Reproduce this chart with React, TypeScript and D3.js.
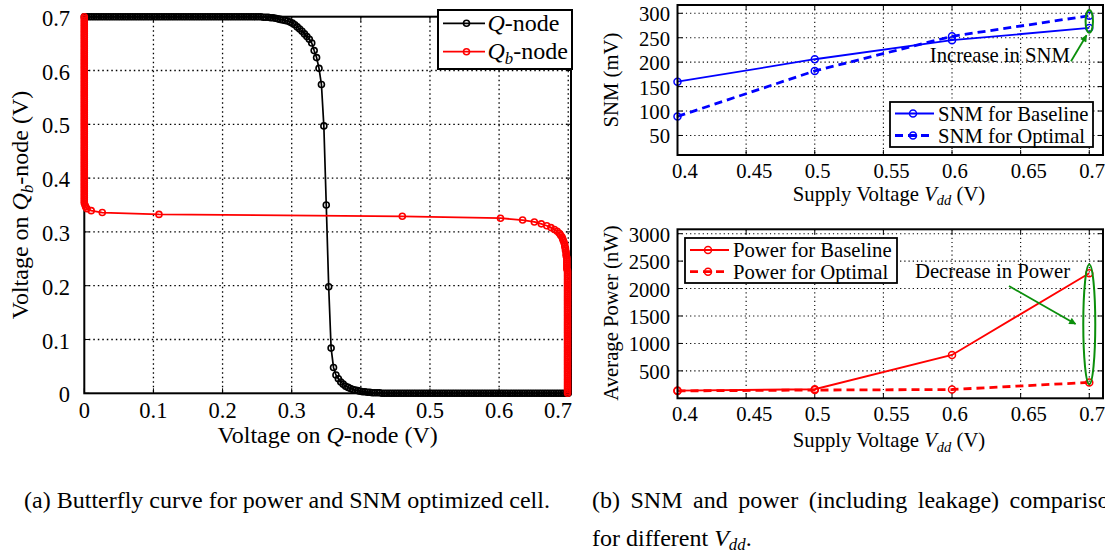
import React, { useEffect, useRef } from 'react';
import * as d3 from 'd3';

const W = 1105;
const H = 556;
const FONT = "'Liberation Serif', 'Times New Roman', serif";
const GREEN = '#0b8f0b';

// (a) butterfly curve, values in mV. Both inverters share the same sweep grid.
const sweepMv = [
  0, 3.5, 7, 10.5, 14, 17.5, 21, 24.5, 28, 31.5,
  35, 38.5, 42, 45.5, 49, 52.5, 56, 59.5, 63, 66.5,
  70, 73.5, 77, 80.5, 84, 87.5, 91, 94.5, 98, 101.5,
  105, 108.5, 112, 115.5, 119, 122.5, 126, 129.5, 133, 136.5,
  140, 143.5, 147, 150.5, 154, 157.5, 161, 164.5, 168, 171.5,
  175, 178.5, 182, 185.5, 189, 192.5, 196, 199.5, 203, 206.5,
  210, 213.5, 217, 220.5, 224, 227.5, 231, 234.5, 238, 241.5,
  245, 248.5, 252, 255.5, 259, 262.5, 266, 269.5, 273, 276.5,
  280, 283.5, 287, 290.5, 294, 297.5, 301, 304.5, 308, 311.5,
  315, 318.5, 322, 325.5, 329, 332.5, 336, 339.5, 343, 346.5,
  350, 353.5, 357, 360.5, 364, 367.5, 371, 374.5, 378, 381.5,
  385, 388.5, 392, 395.5, 399, 402.5, 406, 409.5, 413, 416.5,
  420, 423.5, 427, 430.5, 434, 437.5, 441, 444.5, 448, 451.5,
  455, 458.5, 462, 465.5, 469, 472.5, 476, 479.5, 483, 486.5,
  490, 493.5, 497, 500.5, 504, 507.5, 511, 514.5, 518, 521.5,
  525, 528.5, 532, 535.5, 539, 542.5, 546, 549.5, 553, 556.5,
  560, 563.5, 567, 570.5, 574, 577.5, 581, 584.5, 588, 591.5,
  595, 598.5, 602, 605.5, 609, 612.5, 616, 619.5, 623, 626.5,
  630, 633.5, 637, 640.5, 644, 647.5, 651, 654.5, 658, 661.5,
  665, 668.5, 672, 675.5, 679, 682.5, 686, 689.5, 693, 696.5,
  700,
];

// Q-node voltage at each sweep step (black, sweep on x)
const qNodeMv = [
  700, 700, 700, 700, 700, 700, 700, 700, 700, 700,
  700, 700, 700, 700, 700, 700, 700, 700, 700, 700,
  700, 700, 700, 700, 700, 700, 700, 700, 700, 700,
  700, 700, 700, 700, 700, 700, 700, 700, 700, 700,
  700, 700, 700, 700, 700, 700, 700, 700, 700, 700,
  700, 700, 700, 700, 700, 700, 700, 700, 700, 700,
  700, 700, 700, 700, 700, 700, 700, 700, 700, 700,
  700, 700, 700, 700, 699, 699, 699, 698, 698, 697,
  696, 695, 694, 693, 692, 690, 688, 685, 681, 677,
  673, 668, 663, 658, 651, 637, 624, 604, 574, 497,
  350, 198, 84, 48, 34, 27, 21, 17, 13, 11,
  9, 7, 6, 5, 4, 3, 3, 2, 2, 1,
  1, 1, 1, 0, 0, 0, 0, 0, 0, 0,
  0, 0, 0, 0, 0, 0, 0, 0, 0, 0,
  0, 0, 0, 0, 0, 0, 0, 0, 0, 0,
  0, 0, 0, 0, 0, 0, 0, 0, 0, 0,
  0, 0, 0, 0, 0, 0, 0, 0, 0, 0,
  0, 0, 0, 0, 0, 0, 0, 0, 0, 0,
  0, 0, 0, 0, 0, 0, 0, 0, 0, 0,
  0, 0, 0, 0, 0, 0, 0, 0, 0, 0,
  0,
];

// Qb-node voltage at each sweep step (red, sweep on y)
const qbNodeMv = [
  699, 699, 699, 699, 699, 699, 699, 699, 699, 699,
  699, 699, 699, 699, 699, 699, 699, 699, 699, 699,
  699, 699, 699, 699, 699, 699, 699, 699, 699, 699,
  699, 699, 699, 699, 699, 699, 699, 699, 699, 699,
  699, 699, 699, 699, 699, 699, 699, 699, 699, 699,
  699, 699, 699, 699, 699, 699, 699, 699, 699, 699,
  699, 699, 699, 699, 699, 699, 698, 698, 698, 698,
  698, 698, 698, 697, 697, 697, 696, 696, 695, 695,
  694, 693, 692, 691, 689, 687, 684, 680, 675, 669,
  661, 651, 634, 602, 460, 108, 26, 10, 4, 2,
  1, 0, 0, 0, 0, 0, 0, 0, 0, 0,
  0, 0, 0, 0, 0, 0, 0, 0, 0, 0,
  0, 0, 0, 0, 0, 0, 0, 0, 0, 0,
  0, 0, 0, 0, 0, 0, 0, 0, 0, 0,
  0, 0, 0, 0, 0, 0, 0, 0, 0, 0,
  0, 0, 0, 0, 0, 0, 0, 0, 0, 0,
  0, 0, 0, 0, 0, 0, 0, 0, 0, 0,
  0, 0, 0, 0, 0, 0, 0, 0, 0, 0,
  0, 0, 0, 0, 0, 0, 0, 0, 0, 0,
  0, 0, 0, 0, 0, 0, 0, 0, 0, 0,
  0,
];

const butterflyTicks = [0, 0.1, 0.2, 0.3, 0.4, 0.5, 0.6, 0.7];

// (b) SNM and power for different Vdd
const vdd = [0.4, 0.5, 0.6, 0.7];
const snmBaseline = [160, 206, 245, 270];
const snmOptimal = [89, 182, 253, 295];
const powerBaseline = [140, 165, 790, 2280];
const powerOptimal = [135, 150, 160, 290];

const vddTicks = [0.4, 0.45, 0.5, 0.55, 0.6, 0.65, 0.7];
const snmTicks = [50, 100, 150, 200, 250, 300];
const powerTicks = [500, 1000, 1500, 2000, 2500, 3000];

type Part = { t: string; i?: boolean; sub?: boolean };

// text with italic / subscript pieces
const richText = (g: any, x: number, y: number, parts: Part[], size: number, anchor = 'start', drop = 0.22) => {
  const text = g.append('text')
    .attr('x', x)
    .attr('y', y)
    .attr('font-family', FONT)
    .attr('font-size', size)
    .attr('text-anchor', anchor)
    .attr('fill', '#000');
  let low = false;
  parts.forEach(p => {
    const ts = text.append('tspan').text(p.t);
    if (p.i) ts.attr('font-style', 'italic');
    if (p.sub) {
      ts.attr('font-size', size * 0.7);
      if (!low) ts.attr('dy', size * drop);
      low = true;
    } else if (low) {
      ts.attr('dy', -size * drop);
      low = false;
    }
  });
  return text;
};

const drawBox = (g: any, x0: number, y0: number, x1: number, y1: number, w: number) => {
  g.append('rect')
    .attr('x', x0).attr('y', y0)
    .attr('width', x1 - x0).attr('height', y1 - y0)
    .attr('fill', 'none').attr('stroke', '#000').attr('stroke-width', w);
};

const drawButterfly = (svg: any) => {
  const x = d3.scaleLinear().domain([0, 0.704]).range([84.3, 571]);
  const y = d3.scaleLinear().domain([0, 0.7]).range([393.3, 16.7]);
  const [x0, x1] = x.range();
  const [y0, y1] = y.range();
  const g = svg.append('g');

  // dotted grid
  g.selectAll('.gx').data(butterflyTicks.slice(1)).join('line')
    .attr('x1', (d: number) => x(d)).attr('x2', (d: number) => x(d))
    .attr('y1', y1).attr('y2', y0)
    .attr('stroke', '#000').attr('stroke-width', 1.3).attr('stroke-dasharray', '1.5,3');
  g.selectAll('.gy').data(butterflyTicks.slice(1, -1)).join('line')
    .attr('x1', x0).attr('x2', x1)
    .attr('y1', (d: number) => y(d)).attr('y2', (d: number) => y(d))
    .attr('stroke', '#000').attr('stroke-width', 1.3).attr('stroke-dasharray', '1.5,3');

  // inward ticks
  butterflyTicks.forEach(t => {
    g.append('line').attr('x1', x(t)).attr('x2', x(t)).attr('y1', y0).attr('y2', y0 - 5).attr('stroke', '#000');
    g.append('line').attr('x1', x(t)).attr('x2', x(t)).attr('y1', y1).attr('y2', y1 + 5).attr('stroke', '#000');
    g.append('line').attr('x1', x0).attr('x2', x0 + 5).attr('y1', y(t)).attr('y2', y(t)).attr('stroke', '#000');
    g.append('line').attr('x1', x1).attr('x2', x1 - 5).attr('y1', y(t)).attr('y2', y(t)).attr('stroke', '#000');
  });

  drawBox(g, x0, y1, x1, y0, 2);

  const idx = d3.range(sweepMv.length);

  // Q-node (black): sweep on x
  const qLine = d3.line<number>()
    .x(i => x(sweepMv[i] / 1000))
    .y(i => y(qNodeMv[i] / 1000));
  g.append('path').attr('d', qLine(idx)).attr('fill', 'none').attr('stroke', '#000').attr('stroke-width', 1.7);
  g.selectAll('.qm').data(idx).join('circle')
    .attr('cx', (i: number) => x(sweepMv[i] / 1000))
    .attr('cy', (i: number) => y(qNodeMv[i] / 1000))
    .attr('r', 3).attr('fill', 'none').attr('stroke', '#000').attr('stroke-width', 1.6);

  // Qb-node (red): sweep on y
  const qbLine = d3.line<number>()
    .x(i => x(qbNodeMv[i] / 1000))
    .y(i => y(sweepMv[i] / 1000));
  g.append('path').attr('d', qbLine(idx)).attr('fill', 'none').attr('stroke', '#ff0000').attr('stroke-width', 1.8);
  g.selectAll('.qbm').data(idx).join('circle')
    .attr('cx', (i: number) => x(qbNodeMv[i] / 1000))
    .attr('cy', (i: number) => y(sweepMv[i] / 1000))
    .attr('r', 3).attr('fill', 'none').attr('stroke', '#ff0000').attr('stroke-width', 1.6);

  // tick labels
  butterflyTicks.forEach((t, k) => {
    const last = k === butterflyTicks.length - 1;
    g.append('text')
      .attr('x', last ? x1 + 1 : x(t))
      .attr('y', 417.5)
      .attr('text-anchor', last ? 'end' : 'middle')
      .attr('font-family', FONT).attr('font-size', 22.5)
      .text(d3.format('')(t));
    g.append('text')
      .attr('x', 70)
      .attr('y', y(t) + 9)
      .attr('text-anchor', 'end')
      .attr('font-family', FONT).attr('font-size', 22.5)
      .text(d3.format('')(t));
  });

  // axis titles
  richText(g, (x0 + x1) / 2, 443, [{ t: 'Voltage on ' }, { t: 'Q', i: true }, { t: '-node (V)' }], 24, 'middle');
  const yl = g.append('g').attr('transform', `translate(28, ${(y0 + y1) / 2}) rotate(-90)`);
  richText(yl, 0, 0, [{ t: 'Voltage on ' }, { t: 'Q', i: true }, { t: 'b', i: true, sub: true }, { t: '-node (V)' }], 24, 'middle');

  // legend
  const lg = g.append('g');
  lg.append('rect').attr('x', 438).attr('y', 10).attr('width', 134).attr('height', 59)
    .attr('fill', '#fff').attr('stroke', '#000').attr('stroke-width', 2);
  const items = [
    { color: '#000', cy: 23.3, parts: [{ t: 'Q', i: true }, { t: '-node' }] },
    { color: '#ff0000', cy: 51.7, parts: [{ t: 'Q', i: true }, { t: 'b', i: true, sub: true }, { t: '-node' }] },
  ];
  items.forEach(it => {
    lg.append('line').attr('x1', 443).attr('x2', 485).attr('y1', it.cy).attr('y2', it.cy)
      .attr('stroke', it.color).attr('stroke-width', 1.8);
    lg.append('circle').attr('cx', 466.5).attr('cy', it.cy).attr('r', 3)
      .attr('fill', 'none').attr('stroke', it.color).attr('stroke-width', 1.6);
    richText(lg, 487.5, it.cy + 7.5, it.parts, 24);
  });
};

const drawVddPanel = (svg: any, cfg: any) => {
  const x = d3.scaleLinear().domain([0.4, 0.71]).range([677.5, 1103]);
  const y = d3.scaleLinear().domain(cfg.yDomain).range([cfg.bottom, cfg.top]);
  const [x0, x1] = x.range();
  const [y0, y1] = y.range();
  const g = svg.append('g');

  g.selectAll('.gx').data(vddTicks.slice(1)).join('line')
    .attr('x1', (d: number) => x(d)).attr('x2', (d: number) => x(d))
    .attr('y1', y1).attr('y2', y0)
    .attr('stroke', '#000').attr('stroke-width', 1.1).attr('stroke-dasharray', '1.2,3');
  g.selectAll('.gy').data(cfg.yTicks).join('line')
    .attr('x1', x0).attr('x2', x1)
    .attr('y1', (d: number) => y(d)).attr('y2', (d: number) => y(d))
    .attr('stroke', '#000').attr('stroke-width', 1.1).attr('stroke-dasharray', '1.2,3');

  vddTicks.forEach(t => {
    g.append('line').attr('x1', x(t)).attr('x2', x(t)).attr('y1', y0).attr('y2', y0 - 5).attr('stroke', '#000');
    g.append('line').attr('x1', x(t)).attr('x2', x(t)).attr('y1', y1).attr('y2', y1 + 5).attr('stroke', '#000');
  });
  cfg.yTicks.forEach((t: number) => {
    g.append('line').attr('x1', x0).attr('x2', x0 + 5).attr('y1', y(t)).attr('y2', y(t)).attr('stroke', '#000');
    g.append('line').attr('x1', x1).attr('x2', x1 - 5).attr('y1', y(t)).attr('y2', y(t)).attr('stroke', '#000');
  });

  const line = d3.line<number>().x((_, i) => x(vdd[i])).y(d => y(d));
  const series = [
    { values: cfg.baseline, width: 1.8, dash: null },
    { values: cfg.optimal, width: 2.8, dash: '8,5' },
  ];
  series.forEach(s => {
    g.append('path').attr('d', line(s.values)).attr('fill', 'none')
      .attr('stroke', cfg.color).attr('stroke-width', s.width)
      .attr('stroke-dasharray', s.dash);
    g.selectAll(null).data(s.values).join('circle')
      .attr('cx', (_: number, i: number) => x(vdd[i]))
      .attr('cy', (d: number) => y(d))
      .attr('r', 3.5).attr('fill', 'none').attr('stroke', cfg.color).attr('stroke-width', 1.5);
  });

  drawBox(g, x0, y1, x1, y0, 2);

  // tick labels
  vddTicks.forEach(t => {
    g.append('text')
      .attr('x', Math.max(x(t) - 10, x0 - 5.5))
      .attr('y', y0 + 23)
      .attr('font-family', FONT).attr('font-size', 20.7)
      .text(d3.format('')(t));
  });
  cfg.yTicks.forEach((t: number) => {
    g.append('text')
      .attr('x', 670).attr('y', y(t) + 8)
      .attr('text-anchor', 'end')
      .attr('font-family', FONT).attr('font-size', 20.7)
      .text(t);
  });

  richText(g, 889, cfg.xTitleY, [{ t: 'Supply Voltage ' }, { t: 'V', i: true }, { t: 'dd', i: true, sub: true }, { t: ' (V)' }], 20.7, 'middle');
  const yl = g.append('g').attr('transform', `translate(618, ${cfg.yTitleCy}) rotate(-90)`);
  richText(yl, 0, 0, [{ t: cfg.yTitle }], 20.7, 'middle');

  // legend
  const lb = cfg.legend;
  g.append('rect').attr('x', lb.x0).attr('y', lb.y0).attr('width', lb.x1 - lb.x0).attr('height', lb.y1 - lb.y0)
    .attr('fill', '#fff').attr('stroke', '#000').attr('stroke-width', 1.8);
  cfg.labels.forEach((label: string, k: number) => {
    const cy = lb.rows[k];
    g.append('line').attr('x1', lb.x0 + 5).attr('x2', lb.x0 + 44).attr('y1', cy).attr('y2', cy)
      .attr('stroke', cfg.color).attr('stroke-width', series[k].width)
      .attr('stroke-dasharray', series[k].dash);
    g.append('circle').attr('cx', lb.x0 + 23).attr('cy', cy).attr('r', 3.5)
      .attr('fill', 'none').attr('stroke', cfg.color).attr('stroke-width', 1.5);
    g.append('text').attr('x', lb.x0 + 48).attr('y', cy + 7)
      .attr('font-family', FONT).attr('font-size', 20.7).text(label);
  });

  // annotation: ellipse round the 0.7 V points and an arrow from the note
  const an = cfg.note;
  g.append('ellipse')
    .attr('cx', x(0.7)).attr('cy', y((an.lo + an.hi) / 2))
    .attr('rx', an.rx).attr('ry', Math.abs(y(an.lo) - y(an.hi)) / 2)
    .attr('fill', 'none').attr('stroke', GREEN).attr('stroke-width', 2);
  g.append('line')
    .attr('x1', x(an.from[0])).attr('y1', y(an.from[1]))
    .attr('x2', x(an.to[0])).attr('y2', y(an.to[1]))
    .attr('stroke', GREEN).attr('stroke-width', 1.8)
    .attr('marker-end', 'url(#greenArrow)');
  g.append('text').attr('x', x(an.at[0])).attr('y', y(an.at[1]))
    .attr('font-family', FONT).attr('font-size', 20.7).text(an.text);
};

const App = () => {
  const svgRef = useRef<SVGSVGElement>(null);

  useEffect(() => {
    const svg = d3.select(svgRef.current);
    svg.selectAll('*').remove();
    svg.append('rect').attr('width', W).attr('height', H).attr('fill', '#fff');

    svg.append('defs').append('marker')
      .attr('id', 'greenArrow')
      .attr('viewBox', '0 0 10 10')
      .attr('refX', 9).attr('refY', 5)
      .attr('markerWidth', 10).attr('markerHeight', 7)
      .attr('markerUnits', 'userSpaceOnUse')
      .attr('orient', 'auto')
      .append('path').attr('d', 'M0,0L10,5L0,10z').attr('fill', GREEN);

    drawButterfly(svg);

    drawVddPanel(svg, {
      top: 5, bottom: 155, yDomain: [10, 317], yTicks: snmTicks,
      baseline: snmBaseline, optimal: snmOptimal, color: '#0000ff',
      labels: ['SNM for Baseline', 'SNM for Optimal'],
      yTitle: 'SNM (mV)', yTitleCy: 80, xTitleY: 200.5,
      legend: { x0: 890, y0: 102, x1: 1093, y1: 147, rows: [113.5, 135.5] },
      note: { lo: 260, hi: 307, rx: 3.7, from: [0.6867, 202], to: [0.698, 255], at: [0.5838, 200], text: 'Increase in SNM' },
    });

    drawVddPanel(svg, {
      top: 229.3, bottom: 398.3, yDomain: [0, 3080], yTicks: powerTicks,
      baseline: powerBaseline, optimal: powerOptimal, color: '#ff0000',
      labels: ['Power for Baseline', 'Power for Optimal'],
      yTitle: 'Average Power (nW)', yTitleCy: 313, xTitleY: 447,
      legend: { x0: 685, y0: 238, x1: 897, y1: 283, rows: [250, 271.7] },
      note: { lo: 258, hi: 2440, rx: 6, from: [0.6415, 2045], to: [0.69, 1355], at: [0.573, 2192], text: 'Decrease in Power' },
    });

    // captions (line 1 of (b) runs past the right edge, as in the source figure)
    svg.append('text').attr('x', 287).attr('y', 508).attr('text-anchor', 'middle')
      .attr('font-family', FONT).attr('font-size', 24)
      .text('(a) Butterfly curve for power and SNM optimized cell.');
    svg.append('text').attr('x', 592).attr('y', 508)
      .attr('font-family', FONT).attr('font-size', 24).attr('word-spacing', 4.5)
      .text('(b) SNM and power (including leakage) comparison');
    richText(svg, 592, 546, [{ t: 'for different ' }, { t: 'V', i: true }, { t: 'dd', i: true, sub: true }, { t: '.' }], 24, 'start', 0.16);
  }, []);

  return (
    <svg ref={svgRef} width={W} height={H} style={{ position: 'absolute', left: 0, top: 0 }}></svg>
  );
};

export default App;
